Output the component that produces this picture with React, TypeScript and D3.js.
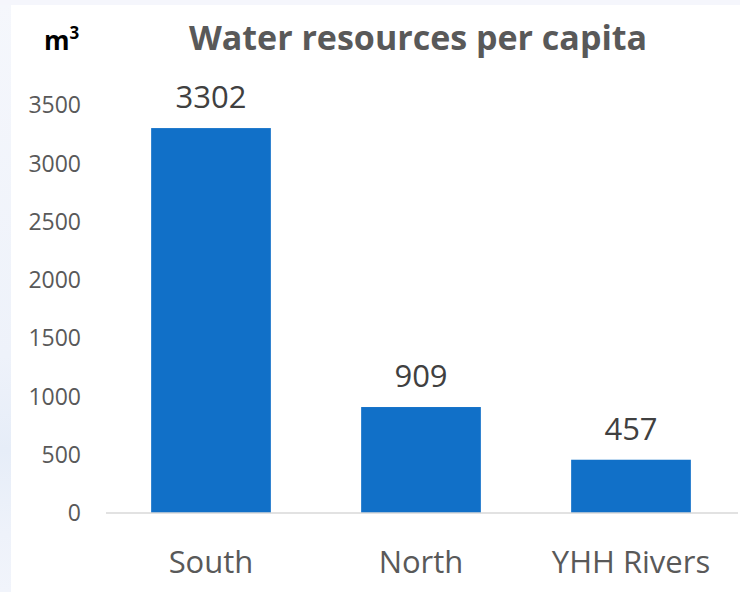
import React from "react";
import * as d3 from "d3";

const categories = ["South", "North", "YHH Rivers"];
const values = [3302, 909, 457];
const yTicks = [0, 500, 1000, 1500, 2000, 2500, 3000, 3500];
const titleText = "Water resources per capita";
const unitText = "m";
const unitSup = "3";

const W = 740;
const H = 592;
const FONT = "'Open Sans', 'Noto Sans', sans-serif";

export default function App() {
  const x = d3.scaleBand<string>().domain(categories).range([106, 736]).paddingInner(0.43).paddingOuter(0.215);
  const y = d3.scaleLinear().domain([0, 3500]).range([513, 105]);

  return (
    <svg
      width={W}
      height={H}
      style={{ position: "absolute", left: 0, top: 0, display: "block" }}
    >
      <defs>
        <linearGradient id="edge" x1="0" y1="0" x2="0" y2="1">
          <stop offset="0" stopColor="#f5f7fc" />
          <stop offset="0.6" stopColor="#eef2fa" />
          <stop offset="0.76" stopColor="#e6edf8" />
          <stop offset="0.9" stopColor="#eef2fa" />
          <stop offset="1" stopColor="#f1f4fb" />
        </linearGradient>
      </defs>
      <rect x={0} y={0} width={W} height={H} fill="url(#edge)" />
      <rect x={0} y={0} width={W} height={5} fill="#f5f6fc" />
      <rect x={11} y={5} width={W - 11} height={H - 5} fill="#ffffff" />

      {/* unit */}
      <text x={44} y={50} fontFamily={FONT} fontWeight={700} fontSize={26} fill="#000">
        {unitText}
        <tspan dy={-11} fontSize={17}>{unitSup}</tspan>
      </text>

      {/* title */}
      <text x={418} y={50} textAnchor="middle" fontFamily={FONT} fontWeight={700} fontSize={34} fill="#595959">
        {titleText}
      </text>

      {/* y ticks */}
      {yTicks.map((t) => (
        <text
          key={t}
          x={81}
          y={y(t)}
          dy="0.36em"
          textAnchor="end"
          fontFamily={FONT}
          fontSize={23}
          fill="#595959"
        >
          {t}
        </text>
      ))}

      {/* bars */}
      {categories.map((c, i) => (
        <rect
          key={c}
          x={x(c)}
          y={y(values[i])}
          width={x.bandwidth()}
          height={y(0) - y(values[i])}
          fill="#1170c8"
        />
      ))}

      {/* axis line */}
      <line x1={106} x2={738} y1={y(0)} y2={y(0)} stroke="#d9d9d9" strokeWidth={1.5} />

      {/* data labels */}
      {categories.map((c, i) => (
        <text
          key={c}
          x={(x(c) as number) + x.bandwidth() / 2}
          y={y(values[i]) - 20}
          textAnchor="middle"
          fontFamily={FONT}
          fontSize={31}
          fill="#404040"
        >
          {values[i]}
        </text>
      ))}

      {/* category labels */}
      {categories.map((c) => (
        <text
          key={c}
          x={(x(c) as number) + x.bandwidth() / 2}
          y={573}
          textAnchor="middle"
          fontFamily={FONT}
          fontSize={31}
          fill="#595959"
        >
          {c}
        </text>
      ))}
    </svg>
  );
}
